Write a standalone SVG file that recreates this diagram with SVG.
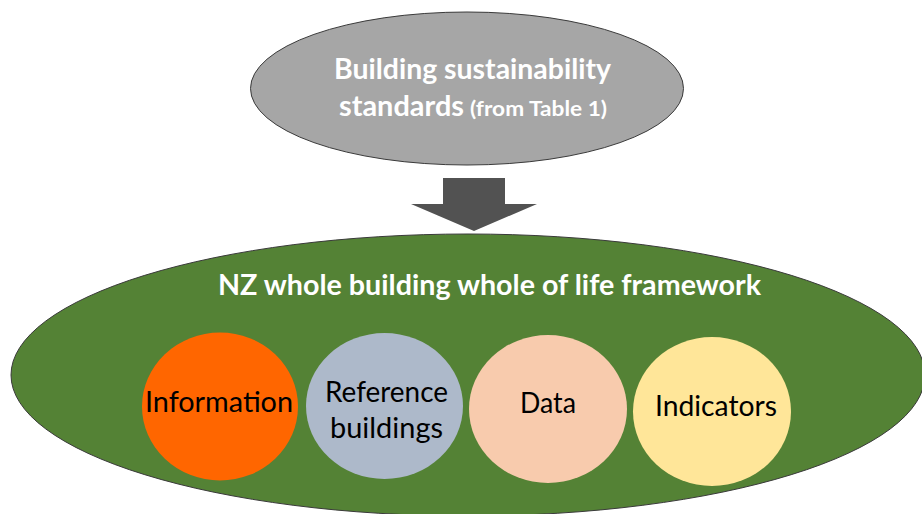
<svg xmlns="http://www.w3.org/2000/svg" width="922" height="514" viewBox="0 0 922 514">
  <style>
    .hdr { font-family: Lato, "Open Sans", "Liberation Sans", sans-serif; font-weight: bold; fill: #ffffff; text-anchor: middle; }
    .lbl { font-family: Lato, "Open Sans", "Liberation Sans", sans-serif; font-weight: normal; fill: #000000; text-anchor: middle; font-size: 28px; }
    .outline { stroke: #3a3a3a; stroke-width: 1; }
  </style>
  <rect width="922" height="514" fill="#ffffff"/>

  <g id="standards">
    <ellipse class="outline" cx="467" cy="88.5" rx="216.5" ry="76.5" fill="#A6A6A6"/>
    <text class="hdr" x="472.5" y="79" font-size="28" textLength="277" lengthAdjust="spacingAndGlyphs">Building sustainability</text>
    <text class="hdr" x="401.5" y="116" font-size="28" textLength="125" lengthAdjust="spacingAndGlyphs">standards</text>
    <text class="hdr" x="538.5" y="116" font-size="21" textLength="137" lengthAdjust="spacingAndGlyphs">(from Table 1)</text>
  </g>

  <g id="connectors">
    <polygon points="443,178 505,178 505,204 537,204 474,231 411,204 443,204" fill="#525252"/>
  </g>

  <g id="framework">
    <ellipse class="outline" cx="468" cy="375" rx="457" ry="141" fill="#548235"/>
    <text class="hdr" x="489.5" y="295" font-size="28" textLength="543" lengthAdjust="spacingAndGlyphs">NZ whole building whole of life framework</text>
  </g>

  <g id="information">
    <ellipse cx="220" cy="406.5" rx="78" ry="74" fill="#FF6600"/>
    <text class="lbl" x="219" y="412" textLength="148" lengthAdjust="spacingAndGlyphs">Information</text>
  </g>

  <g id="reference-buildings">
    <ellipse cx="384.5" cy="406" rx="78.5" ry="73" fill="#ADB9CA"/>
    <text class="lbl" x="386.5" y="402" textLength="123" lengthAdjust="spacingAndGlyphs">Reference</text>
    <text class="lbl" x="386.5" y="438" textLength="113" lengthAdjust="spacingAndGlyphs">buildings</text>
  </g>

  <g id="data">
    <ellipse cx="548" cy="409" rx="79" ry="74" fill="#F8CBAD"/>
    <text class="lbl" x="548" y="413" textLength="56" lengthAdjust="spacingAndGlyphs">Data</text>
  </g>

  <g id="indicators">
    <ellipse cx="712" cy="411.5" rx="79" ry="74.5" fill="#FFE699"/>
    <text class="lbl" x="716" y="416" textLength="122" lengthAdjust="spacingAndGlyphs">Indicators</text>
  </g>
</svg>
